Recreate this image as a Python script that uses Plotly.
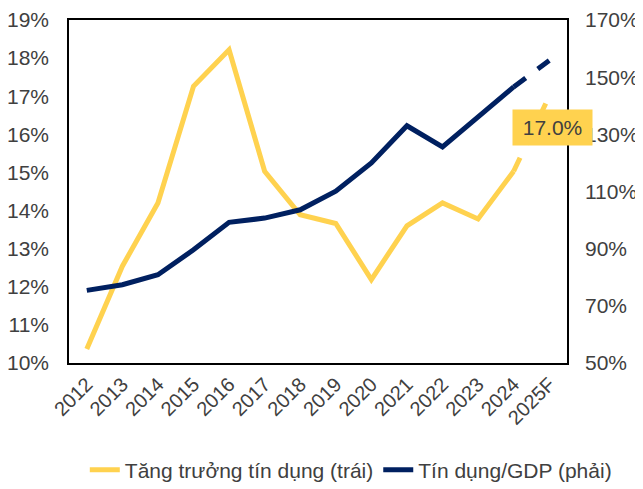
import plotly.graph_objects as go

years = ["2012", "2013", "2014", "2015", "2016", "2017", "2018",
         "2019", "2020", "2021", "2022", "2023", "2024", "2025F"]
# credit growth, % (left axis)
credit_growth = [10.37, 12.54, 14.2, 17.26, 18.22, 15.03, 13.89,
                 13.66, 12.19, 13.6, 14.2, 13.78, 15.03, 17.0]
# credit / GDP, % (right axis)
credit_gdp = [75.4, 77.4, 80.9, 89.6, 99.2, 100.7, 103.6,
              110.1, 120.0, 133.0, 125.6, 136.3, 146.6, 155.8]
left_ticks = list(range(10, 20))
right_ticks = list(range(50, 171, 20))

yellow = "#FFD24F"
navy = "#002060"
font = "Liberation Sans, Arial, sans-serif"
txt = "#404040"

fig = go.Figure()

# solid parts (actual) up to 2024
fig.add_trace(go.Scatter(
    x=years[:-1], y=credit_growth[:-1], mode="lines",
    name="Tăng trưởng tín dụng (trái)",
    line=dict(color=yellow, width=5), yaxis="y"))
fig.add_trace(go.Scatter(
    x=years[:-1], y=credit_gdp[:-1], mode="lines",
    name="Tín dụng/GDP (phải)",
    line=dict(color=navy, width=5), yaxis="y2"))

# dashed forecast segments
fig.add_trace(go.Scatter(
    x=years[-2:], y=credit_growth[-2:], mode="lines", showlegend=False,
    line=dict(color=yellow, width=5, dash="dash"), yaxis="y"))
fig.add_trace(go.Scatter(
    x=years[-2:], y=credit_gdp[-2:], mode="lines", showlegend=False,
    line=dict(color=navy, width=5, dash="dash"), yaxis="y2"))

fig.add_annotation(
    x=years[-1], y=credit_growth[-1], xref="x", yref="y",
    text=f"{credit_growth[-1]:.1f}%", showarrow=False,
    xshift=3, yshift=-31, width=77, height=33,
    bgcolor=yellow, font=dict(family=font, size=21, color=txt))

fig.update_layout(
    width=643, height=489,
    margin=dict(l=61, r=84, t=12, b=134, autoexpand=False),
    paper_bgcolor="white", plot_bgcolor="white",
    font=dict(family=font, size=21, color=txt),
    showlegend=True,
    legend=dict(orientation="h", x=1.1, xanchor="right",
                y=-0.312, yanchor="middle",
                font=dict(size=21, color=txt),
                itemwidth=30, tracegroupgap=0),
    xaxis=dict(type="category", range=[-0.5, 13.5], tickangle=-45,
               showline=True, mirror=True, automargin=False,
               linecolor="black", linewidth=1.5, ticks="", showgrid=False,
               tickfont=dict(size=20, color=txt)),
    yaxis=dict(range=[10, 19], tickvals=left_ticks,
               ticktext=[f"{v}%" for v in left_ticks], showline=True,
               mirror=True, linecolor="black", linewidth=1.5, showgrid=False,
               zeroline=False, ticks="", automargin=False,
               ticklabelstandoff=14),
    yaxis2=dict(range=[50, 170], tickvals=right_ticks,
                ticktext=[f"{v}%" for v in right_ticks], overlaying="y",
                side="right", showgrid=False, zeroline=False, ticks="",
                showline=False, automargin=False, ticklabelstandoff=17),
)

fig.write_html("out.html")
